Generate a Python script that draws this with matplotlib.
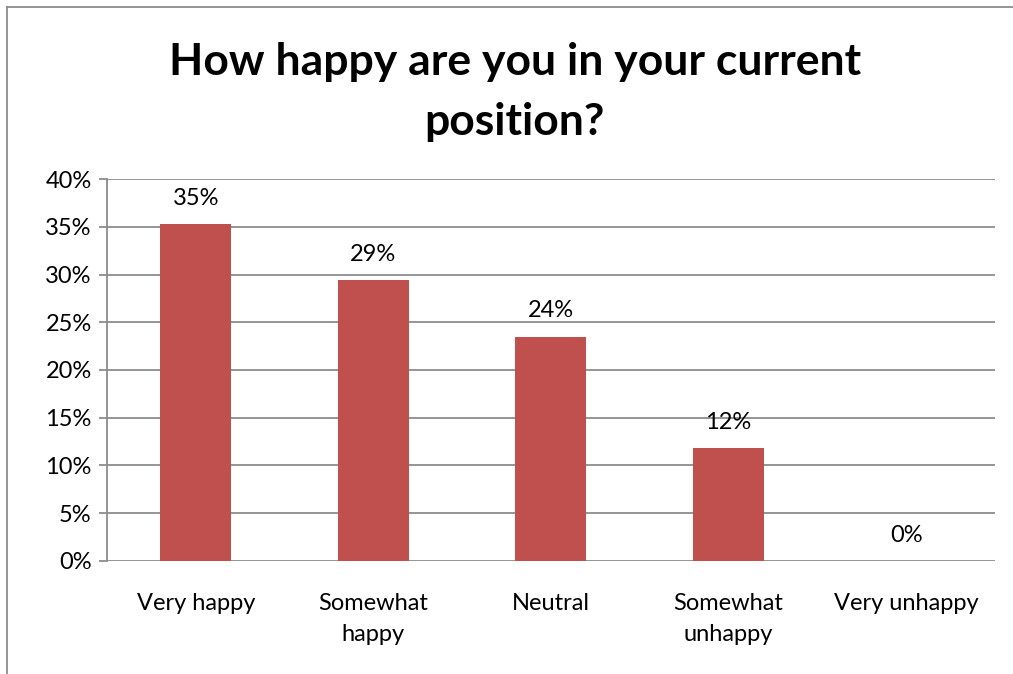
import matplotlib
matplotlib.use("Agg")
import matplotlib.pyplot as plt
from matplotlib.lines import Line2D
from matplotlib.ticker import PercentFormatter

# survey answers (share of respondents)
categories = ["Very happy", "Somewhat\nhappy", "Neutral", "Somewhat\nunhappy", "Very unhappy"]
shares = [35.3, 29.4, 23.5, 11.8, 0.0]
value_labels = ["35%", "29%", "24%", "12%", "0%"]
y_ticks = [0, 5, 10, 15, 20, 25, 30, 35, 40]

plt.rcParams["font.family"] = ["Lato", "DejaVu Sans"]

fig = plt.figure(figsize=(10.13, 6.74), dpi=100)
ax = fig.add_axes([0.1056, 0.1677, 0.8766, 0.5667])

bar_color = "#C0504D"
grid_color = "#8C8C8C"

x = range(len(categories))
bars = ax.bar(x, shares, width=0.4, color=bar_color, zorder=3)

for bar, label in zip(bars, value_labels):
    ax.annotate(label, (bar.get_x() + bar.get_width() / 2, bar.get_height()),
                xytext=(0, 11), textcoords="offset points",
                ha="center", va="bottom", fontsize=17)

ax.set_xlim(-0.5, len(categories) - 0.5)
ax.set_ylim(0, 40)
ax.set_yticks(y_ticks)
ax.yaxis.set_major_formatter(PercentFormatter(decimals=0))
ax.set_xticks(list(x))
ax.set_xticklabels(categories, fontsize=17, linespacing=1.62)
ax.tick_params(axis="y", labelsize=17, length=6, color=grid_color, width=1.3, pad=5)
ax.tick_params(axis="x", length=0, pad=23)

ax.grid(axis="y", color=grid_color, linewidth=1.3, zorder=0)
for side in ["top", "right", "bottom"]:
    ax.spines[side].set_visible(False)
ax.spines["left"].set_color(grid_color)
ax.spines["left"].set_linewidth(1.3)

fig.text(0.508, 0.864, "How happy are you in your current\nposition?",
         ha="center", va="center", fontsize=32, fontweight="bold", linespacing=1.6)

# chart frame (left and top edges)
frame = "#8C8C8C"
fig.add_artist(Line2D([0.0069, 0.0069], [0.0, 0.9896], color=frame, lw=1.3))
fig.add_artist(Line2D([0.0069, 1.0], [0.9896, 0.9896], color=frame, lw=1.3))

fig.savefig("out.png", dpi=100)
